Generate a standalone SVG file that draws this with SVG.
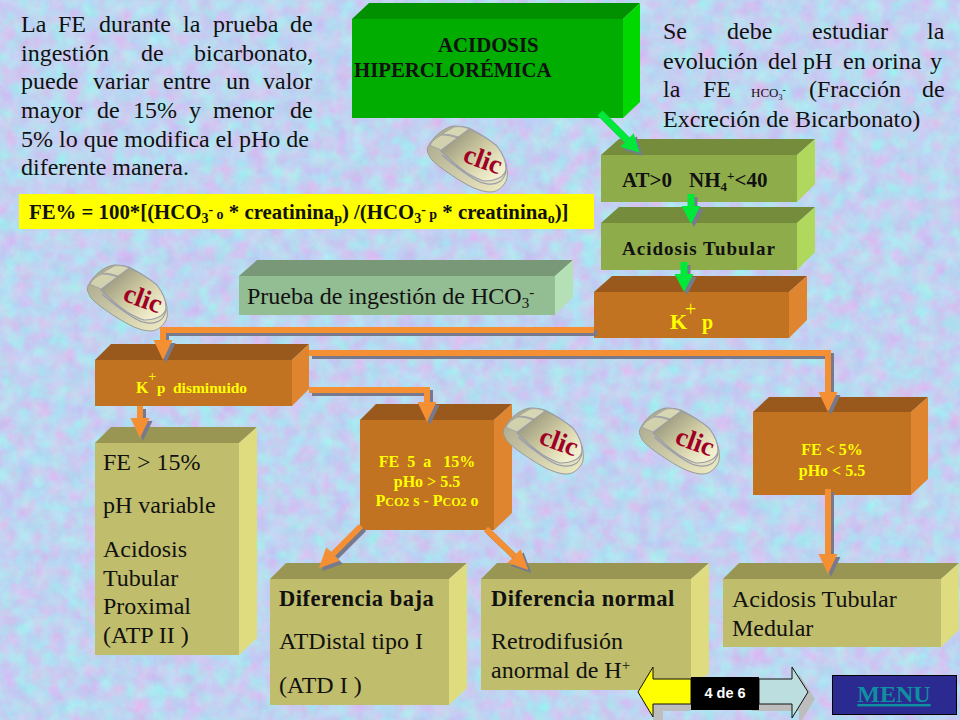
<svg xmlns="http://www.w3.org/2000/svg" xmlns:xlink="http://www.w3.org/1999/xlink" width="960" height="720" viewBox="0 0 960 720">
<style>
text{font-family:"Liberation Serif","Times New Roman",serif;fill:#111;white-space:pre}
.b{font-weight:bold}
.t24{font-size:24px}
.y{fill:#ffff00;font-weight:bold}
.g .f{fill:#00ad00}.g .t{fill:#009000}.g .r{fill:#00d800}
.o .f{fill:#8fac4a}.o .t{fill:#748c3c}.o .r{fill:#b0d85c}
.c .f{fill:#c17321}.c .t{fill:#99591c}.c .r{fill:#e0852f}
.p .f{fill:#93bd93}.p .t{fill:#789878}.p .r{fill:#b5e0b5}
.k .f{fill:#c0bd6c}.k .t{fill:#999653}.k .r{fill:#dfdc80}
.wo{fill:none;stroke:#f58f33;stroke-width:6}
.wg{fill:none;stroke:#00e838;stroke-width:7}
</style>
<defs>
<filter id="bg" x="0" y="0" width="100%" height="100%" color-interpolation-filters="sRGB">
<feTurbulence type="fractalNoise" baseFrequency="0.06" numOctaves="5" seed="7"/>
<feColorMatrix type="matrix" values="0.16 -0.24 0 0 0.79  0 0.28 0 0 0.69  0 0 0.05 0 0.92  0 0 0 0 1"/>
</filter>
<filter id="sh" x="-5%" y="-5%" width="110%" height="110%" color-interpolation-filters="sRGB">
<feDropShadow dx="3" dy="3" stdDeviation="0" flood-color="#77798c"/>
</filter>
<linearGradient id="mt" x1="0.1" y1="0.1" x2="0.9" y2="0.8"><stop offset="0" stop-color="#92927a"/><stop offset="0.55" stop-color="#cfcba2"/><stop offset="1" stop-color="#f2efcf"/></linearGradient>
<linearGradient id="mb" x1="0" y1="0" x2="1" y2="1"><stop offset="0" stop-color="#a4a388"/><stop offset="1" stop-color="#f0edc4"/></linearGradient>
<marker id="ho" markerUnits="userSpaceOnUse" markerWidth="20" markerHeight="20" refX="0" refY="9.5" orient="auto"><path d="M0 0L20 9.5L0 19z" fill="#f58f33"/></marker>
<marker id="hg" markerUnits="userSpaceOnUse" markerWidth="20" markerHeight="20" refX="0" refY="9.5" orient="auto"><path d="M0 0L18 9.5L0 19z" fill="#00e838"/></marker>
<g id="mouse">
<path d="M1 21C6 10 18 1 27 0C33 0 39 1 42 2C52 7 63 14 70 21C76 30 80 38 80 44C81 50 80 54 78 57C74 63 69 66 63 66C58 66 52 64 47 62C36 57 24 49 13 41C8 37 3 33 2 29C0 26 0 23 1 21z" fill="url(#mb)" stroke="#9a9a94" stroke-width="1"/>
<path d="M14 25L34 8L43 3C53 8 63 14 70 20C76 28 79 36 79 42C79 47 76 50 72 52C66 55 62 55 57 55C50 53 45 50 40 47C31 41 22 33 14 25z" fill="url(#mt)" stroke="#9a9caa" stroke-width="1.2"/>
<path d="M15 8L27 1C33 0 38 1 42 3L31 11C26 9 20 8 15 8z" fill="#d8d7b4" stroke="#9a9caa" stroke-width=".8"/>
<path d="M3 19C6 14 10 11 15 9C20 9 25 10 30 12L14 24C10 22 6 21 3 19z" fill="#d2d1ae" stroke="#9a9caa" stroke-width=".8"/>
<path d="M15 29C25 38 36 46 47 53C55 58 65 60 72 56C76 54 78 50 79 45" fill="none" stroke="#9a9caa" stroke-width="1.2"/>
<text x="0" y="0" transform="translate(53 42) rotate(20)" text-anchor="middle" class="b" style="font-size:27px;fill:#a00024">clic</text>
</g>
</defs>

<rect id="background" width="960" height="720" fill="#b8cef2" filter="url(#bg)"/>

<g id="note-left" class="t24">
<text y="32"><tspan x="21">La</tspan><tspan x="58">FE</tspan><tspan x="99">durante</tspan><tspan x="183">la</tspan><tspan x="213">prueba</tspan><tspan x="290">de</tspan></text>
<text y="61"><tspan x="21">ingestión</tspan><tspan x="141">de</tspan><tspan x="194">bicarbonato,</tspan></text>
<text y="89"><tspan x="21">puede</tspan><tspan x="93">variar</tspan><tspan x="163">entre</tspan><tspan x="226">un</tspan><tspan x="263">valor</tspan></text>
<text y="118"><tspan x="21">mayor</tspan><tspan x="97">de</tspan><tspan x="133">15%</tspan><tspan x="189">y</tspan><tspan x="213">menor</tspan><tspan x="290">de</tspan></text>
<text x="21" y="147">5% lo que modifica el pHo de</text>
<text x="21" y="175">diferente manera.</text>
</g>

<g id="formula">
<rect x="19" y="194" width="575" height="35" fill="#ffff00"/>
<text x="29" y="219" class="b" style="font-size:20.8px">FE% = 100*[(HCO<tspan dy="4" font-size="14">3</tspan><tspan dy="-9" font-size="14">-</tspan><tspan dy="5" font-size="14"> o</tspan> * creatinina<tspan dy="4" font-size="14">p</tspan><tspan dy="-4">) /(HCO</tspan><tspan dy="4" font-size="14">3</tspan><tspan dy="-9" font-size="14">-</tspan><tspan dy="5" font-size="14"> p</tspan> * creatinina<tspan dy="4" font-size="14">o</tspan><tspan dy="-4">)]</tspan></text>
</g>

<g id="note-right" class="t24">
<text y="39"><tspan x="663">Se</tspan><tspan x="727">debe</tspan><tspan x="812">estudiar</tspan><tspan x="927">la</tspan></text>
<text y="69"><tspan x="663">evolución</tspan><tspan x="768">del</tspan><tspan x="803">pH</tspan><tspan x="843">en</tspan><tspan x="872">orina</tspan><tspan x="930">y</tspan></text>
<text y="97"><tspan x="663">la</tspan><tspan x="703">FE</tspan></text>
<text x="751" y="97" style="font-size:13px">HCO<tspan dy="3" font-size="8">3</tspan><tspan dy="-7" font-size="10">-</tspan></text>
<text y="97"><tspan x="809">(Fracción</tspan><tspan x="922">de</tspan></text>
<text x="663" y="127">Excreción de Bicarbonato)</text>
</g>

<g id="node-acidosis" class="g">
<polygon class="t" points="352,19 369,3 640,3 623,19"/><polygon class="r" points="623,19 640,3 640,102 623,118"/><rect class="f" x="352" y="19" width="271" height="99"/>
<text x="438" y="52" class="b" style="font-size:20.8px">ACIDOSIS</text><text x="354" y="77" class="b" style="font-size:20.8px">HIPERCLORÉMICA</text>
</g>
<g id="node-at" class="o">
<polygon class="t" points="601,155 619,139 815,139 797,155"/><polygon class="r" points="797,155 815,139 815,184 797,202"/><rect class="f" x="601" y="155" width="196" height="47"/>
<text x="622" y="187" class="b" style="font-size:21px">AT&gt;0</text><text x="689" y="187" class="b" style="font-size:21px">NH<tspan dy="4" font-size="13">4</tspan><tspan dy="-11" font-size="13">+</tspan><tspan dy="7">&lt;40</tspan></text>
</g>
<g id="node-tubular" class="o">
<polygon class="t" points="601,223 619,207 815,207 797,223"/><polygon class="r" points="797,223 815,207 815,252 797,270"/><rect class="f" x="601" y="223" width="196" height="47"/>
<text x="622" y="255" class="b" style="font-size:19px;letter-spacing:1px">Acidosis Tubular</text>
</g>
<g id="node-kp" class="c">
<polygon class="t" points="594,292 612,276 807,276 789,292"/><polygon class="r" points="789,292 807,276 807,320 789,338"/><rect class="f" x="594" y="292" width="195" height="46"/>
<text x="670" y="329" class="y" style="font-size:22px">K</text><text x="685" y="316" style="font-size:20px;fill:#ffff00">+</text><text x="702" y="329" class="y" style="font-size:20px">p</text>
</g>
<g id="node-prueba" class="p">
<polygon class="t" points="239,276 257,260 573,260 555,276"/><polygon class="r" points="555,276 573,260 573,297 555,315"/><rect class="f" x="239" y="276" width="316" height="39"/>
<text x="247" y="304" class="t24">Prueba de ingestión de HCO<tspan dy="4" font-size="15">3</tspan><tspan dy="-11" font-size="15">-</tspan></text>
</g>
<g id="node-kdism" class="c">
<polygon class="t" points="95,360 111,344 309,344 292,360"/><polygon class="r" points="292,360 309,344 309,389 292,406"/><rect class="f" x="95" y="360" width="197" height="46"/>
<text x="136" y="393" class="y" style="font-size:16px">K</text><text x="148" y="381" style="font-size:15px;fill:#ffff00">+</text><text x="157" y="393" class="y" style="font-size:15px">p</text><text x="173" y="393" class="y" style="font-size:15.5px">disminuido</text>
</g>
<g id="node-fe15" class="k">
<polygon class="t" points="95,443 111,427 257,427 239,443"/><polygon class="r" points="239,443 257,427 257,638 239,655"/><rect class="f" x="95" y="443" width="144" height="212"/>
<g class="t24"><text x="103" y="470">FE &gt; 15%</text><text x="103" y="513">pH variable</text><text x="103" y="557">Acidosis</text><text x="103" y="586">Tubular</text><text x="103" y="614">Proximal</text><text x="103" y="643">(ATP II )</text></g>
</g>
<g id="node-fe5-15" class="c">
<polygon class="t" points="360,420 376,404 512,404 494,420"/><polygon class="r" points="494,420 512,404 512,513 494,530"/><rect class="f" x="360" y="420" width="134" height="110"/>
<g text-anchor="middle" style="font-size:16px"><text x="427" y="467" class="y">FE  5  a   15%</text><text x="427" y="487" class="y">pHo &gt; 5.5</text><text x="427" y="506" class="y">P<tspan font-size="12">CO2</tspan> s - P<tspan font-size="12">CO2</tspan> o</text></g>
</g>
<g id="node-fe5" class="c">
<polygon class="t" points="753,412 769,397 928,397 911,412"/><polygon class="r" points="911,412 928,397 928,479 911,495"/><rect class="f" x="753" y="412" width="158" height="83"/>
<g text-anchor="middle" style="font-size:16px"><text x="832" y="455" class="y">FE &lt; 5%</text><text x="832" y="476" class="y">pHo &lt; 5.5</text></g>
</g>
<g id="node-baja" class="k">
<polygon class="t" points="270,579 286,563 467,563 449,579"/><polygon class="r" points="449,579 467,563 467,688 449,705"/><rect class="f" x="270" y="579" width="179" height="126"/>
<text x="279" y="606" class="b" style="font-size:22.5px;letter-spacing:.5px">Diferencia baja</text><text x="279" y="649" class="t24">ATDistal tipo I</text><text x="279" y="693" class="t24">(ATD I )</text>
</g>
<g id="node-normal" class="k">
<polygon class="t" points="481,579 497,563 709,563 691,579"/><polygon class="r" points="691,579 709,563 709,673 691,690"/><rect class="f" x="481" y="579" width="210" height="111"/>
<text x="491" y="606" class="b" style="font-size:22.5px;letter-spacing:.5px">Diferencia normal</text><text x="491" y="649" class="t24">Retrodifusión</text><text x="491" y="678" class="t24">anormal de H<tspan dy="-8" font-size="15">+</tspan></text>
</g>
<g id="node-medular" class="k">
<polygon class="t" points="723,579 739,563 959,563 941,579"/><polygon class="r" points="941,579 959,563 959,630 941,647"/><rect class="f" x="723" y="579" width="218" height="68"/>
<text x="732" y="607" class="t24">Acidosis Tubular</text><text x="732" y="636" class="t24">Medular</text>
</g>

<g id="connectors" filter="url(#sh)">
<path class="wg" d="M600 113L627 140" marker-end="url(#hg)"/>
<path class="wg" d="M691 194V206" marker-end="url(#hg)"/>
<path class="wg" d="M684 262V274" marker-end="url(#hg)"/>
<path class="wo" d="M594 330H163V340" marker-end="url(#ho)"/>
<path class="wo" d="M309 353H828V392" marker-end="url(#ho)"/>
<path class="wo" d="M309 390H427V402" marker-end="url(#ho)"/>
<path class="wo" d="M140 406V418" marker-end="url(#ho)"/>
<path class="wo" d="M361 526L333 554" marker-end="url(#ho)"/>
<path class="wo" d="M486 529L514 556" marker-end="url(#ho)"/>
<path class="wo" d="M828 489V554" marker-end="url(#ho)"/>
</g>

<g id="mouse-1"><use xlink:href="#mouse" href="#mouse" x="427" y="126"/></g>
<g id="mouse-2"><use xlink:href="#mouse" href="#mouse" x="87" y="265"/></g>
<g id="mouse-3"><use xlink:href="#mouse" href="#mouse" x="503" y="408"/></g>
<g id="mouse-4"><use xlink:href="#mouse" href="#mouse" x="639" y="408"/></g>

<g id="nav">
<path d="M653 704H691V711H663V720H653z" fill="#bdbdbd"/>
<polygon points="752,704 799,704 799,674 815,699 799,725 799,711 752,711" fill="#bdbdbd"/>
<polygon points="638,692 653,667 653,679 691,679 691,704 653,704 653,717" fill="#ffff00" stroke="#111" stroke-width="1"/>
<polygon points="759,679 792,679 792,667 808,692 792,718 792,704 759,704" fill="#bcdede" stroke="#111" stroke-width="1"/>
<rect x="691" y="677" width="68" height="33" fill="#000"/>
<text x="725" y="698" text-anchor="middle" style="font-family:'Liberation Sans',Arial,sans-serif;font-size:14.5px;font-weight:bold;fill:#fff">4 de 6</text>
</g>
<g id="menu">
<rect x="832.5" y="675.5" width="124" height="39" fill="#2a2a90" stroke="#000"/>
<text x="894" y="702" text-anchor="middle" class="b" style="font-size:24px;fill:#0f8fa0;text-decoration:underline">MENU</text>
</g>
</svg>
